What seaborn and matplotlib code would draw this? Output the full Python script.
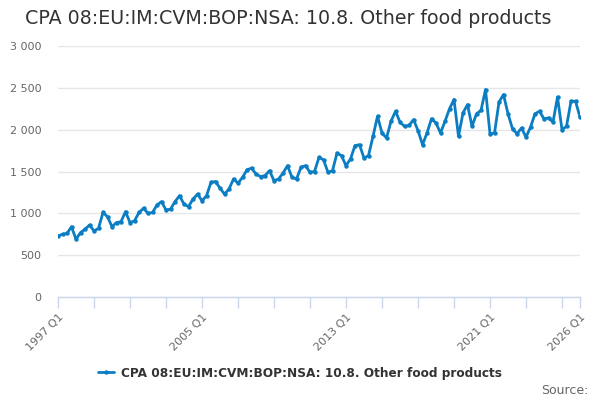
import numpy as np
import pandas as pd
import matplotlib
matplotlib.use('Agg')
import matplotlib.pyplot as plt
import seaborn as sns
from matplotlib.ticker import FuncFormatter, MultipleLocator, FixedLocator

# --- data (quarterly 1997 Q1 .. 2026 Q1) ---
first_year = 1997
values = [
    730, 750, 760, 840,      # 1997
    690, 770, 810, 860,      # 1998
    790, 820, 1010, 960,     # 1999
    840, 890, 900, 1020,     # 2000
    890, 910, 1010, 1060,    # 2001
    1000, 1010, 1100, 1140,  # 2002
    1040, 1050, 1140, 1210,  # 2003
    1110, 1080, 1170, 1230,  # 2004
    1150, 1210, 1370, 1380,  # 2005
    1300, 1230, 1290, 1410,  # 2006
    1360, 1430, 1520, 1540,  # 2007
    1470, 1440, 1450, 1510,  # 2008
    1390, 1410, 1480, 1570,  # 2009
    1430, 1410, 1550, 1570,  # 2010
    1490, 1500, 1670, 1640,  # 2011
    1490, 1510, 1720, 1690,  # 2012
    1570, 1650, 1810, 1820,  # 2013
    1660, 1690, 1920, 2160,  # 2014
    1960, 1900, 2100, 2220,  # 2015
    2090, 2040, 2050, 2120,  # 2016
    1990, 1820, 1960, 2130,  # 2017
    2080, 1960, 2100, 2250,  # 2018
    2360, 1920, 2200, 2300,  # 2019
    2040, 2190, 2230, 2480,  # 2020
    1950, 1960, 2330, 2420,  # 2021
    2190, 2010, 1950, 2020,  # 2022
    1910, 2030, 2190, 2220,  # 2023
    2130, 2140, 2090, 2390,  # 2024
    2000, 2040, 2340, 2340,  # 2025
    2150,                    # 2026
]
series_name = 'CPA 08:EU:IM:CVM:BOP:NSA: 10.8. Other food products'
label_years = [1997, 2005, 2013, 2021, 2026]

periods = [f'{first_year + i // 4} Q{i % 4 + 1}' for i in range(len(values))]
df = pd.DataFrame({'idx': np.arange(len(values)), 'period': periods, 'value': values})

sns.set_theme(style='white')
plt.rcParams['font.family'] = ['DejaVu Sans']

line_color = '#0b7dc3'
axis_color = '#ccd6eb'
grid_color = '#e6e6e6'
label_color = '#666666'

fig = plt.figure(figsize=(6, 4), dpi=100)
ax = fig.add_axes([58 / 600, 1 - 297 / 400, 522 / 600, 251 / 400])

sns.lineplot(data=df, x='idx', y='value', ax=ax, color=line_color, linewidth=2,
             marker='o', markersize=3.2, markeredgewidth=0, label=series_name)

ax.set_xlim(0, len(values) - 1)
ax.set_ylim(0, 3000)
ax.yaxis.set_major_locator(MultipleLocator(500))
ax.yaxis.set_major_formatter(FuncFormatter(lambda v, p: f'{int(v):,}'.replace(',', ' ')))
ax.grid(axis='y', color=grid_color, linewidth=1)
ax.set_axisbelow(True)

# minor ticks every two years, labels every eight years
ax.xaxis.set_major_locator(FixedLocator([(y - first_year) * 4 for y in label_years]))
ax.set_xticklabels([f'{y} Q1' for y in label_years], rotation=45, ha='right',
                   rotation_mode='anchor', color=label_color, fontsize=8)
ax.xaxis.set_minor_locator(FixedLocator(list(range(0, len(values), 8))))
ax.tick_params(axis='x', which='both', length=8, width=1, color=axis_color,
               direction='out', bottom=True, pad=3)
ax.tick_params(axis='y', length=0, labelcolor=label_color, labelsize=8, pad=12)

for side in ['top', 'right', 'left']:
    ax.spines[side].set_visible(False)
ax.spines['bottom'].set_color(axis_color)
ax.spines['bottom'].set_linewidth(1)

ax.set_xlabel('')
ax.set_ylabel('')

fig.text(25 / 600, 1 - 18 / 400, series_name, fontsize=13.7, color='#333333',
         ha='left', va='center')

leg = ax.legend(loc='center', frameon=False, fontsize=8.7,
                handlelength=1.3, handletextpad=0.6)
leg.set_bbox_to_anchor((300 / 600, 1 - 373 / 400), transform=fig.transFigure)
for t in leg.get_texts():
    t.set_fontweight('bold')
    t.set_color('#333333')

fig.text(588 / 600, 1 - 390 / 400, 'Source:', fontsize=9, color=label_color,
         ha='right', va='center')

fig.savefig('out.png', dpi=100)
